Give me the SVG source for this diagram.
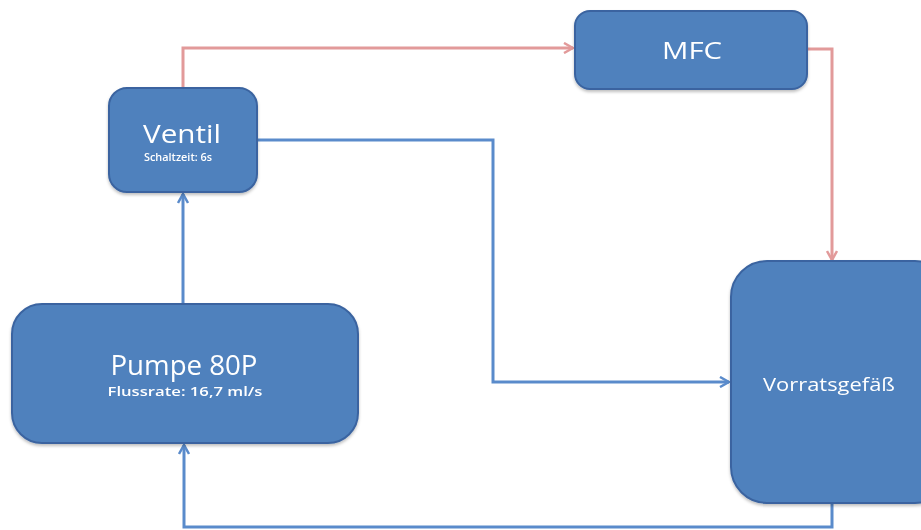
<svg xmlns="http://www.w3.org/2000/svg" width="921" height="530" viewBox="0 0 921 530">
<defs>
<style>
.box{fill:#4F81BD;stroke:#3A64A0;stroke-width:2}
.t{fill:#FFFFFF;font-family:"Open Sans","Liberation Sans",sans-serif;text-anchor:middle}
.s{font-weight:600}
.blue{fill:none;stroke:#5A8BCB;stroke-width:3}
.red{fill:none;stroke:#E29A9A;stroke-width:3}
</style>
<marker id="ab" viewBox="0 0 12 12" refX="11" refY="6" markerWidth="12" markerHeight="12" markerUnits="userSpaceOnUse" orient="auto">
<path d="M2,1 L11,6 L2,11" fill="none" stroke="#5A8BCB" stroke-width="2.5"/>
</marker>
<marker id="ar" viewBox="0 0 12 12" refX="11" refY="6" markerWidth="12" markerHeight="12" markerUnits="userSpaceOnUse" orient="auto">
<path d="M2,1 L11,6 L2,11" fill="none" stroke="#E29A9A" stroke-width="2.5"/>
</marker>
<filter id="sh" x="-10%" y="-10%" width="120%" height="120%">
<feDropShadow dx="0" dy="2" stdDeviation="1.5" flood-color="#000" flood-opacity="0.25"/>
</filter>
</defs>
<g id="connectors">
<polyline class="red" points="183,88 183,48 573,48" marker-end="url(#ar)"/>
<polyline class="red" points="807,49 832,49 832,260" marker-end="url(#ar)"/>
<polyline class="blue" points="183,304 183,194" marker-end="url(#ab)"/>
<polyline class="blue" points="257,140 493,140 493,382 729,382" marker-end="url(#ab)"/>
<polyline class="blue" points="832,503 832,527 184,527 184,445" marker-end="url(#ab)"/>
</g>
<g id="ventil" filter="url(#sh)">
<rect class="box" x="109" y="88" width="148" height="104" rx="18"/>
<text class="t" x="182" y="143" font-size="25" textLength="78" lengthAdjust="spacingAndGlyphs">Ventil</text>
<text class="t s" x="178" y="161" font-size="10.5" textLength="68" lengthAdjust="spacingAndGlyphs">Schaltzeit: 6s</text>
</g>
<g id="mfc" filter="url(#sh)">
<rect class="box" x="575" y="11" width="232" height="78" rx="15"/>
<text class="t" x="692" y="59" font-size="23" textLength="60" lengthAdjust="spacingAndGlyphs">MFC</text>
</g>
<g id="pumpe" filter="url(#sh)">
<rect class="box" x="12" y="304" width="346" height="139" rx="30"/>
<text class="t" x="184" y="375" font-size="28" textLength="147" lengthAdjust="spacingAndGlyphs">Pumpe 80P</text>
<text class="t s" x="185" y="396" font-size="12" textLength="155" lengthAdjust="spacingAndGlyphs">Flussrate: 16,7 ml/s</text>
</g>
<g id="vorratsgefaess" filter="url(#sh)">
<rect class="box" x="731" y="261" width="220" height="242" rx="36"/>
<text class="t" x="829" y="391" font-size="19" textLength="132" lengthAdjust="spacingAndGlyphs">Vorratsgefäß</text>
</g>
</svg>
